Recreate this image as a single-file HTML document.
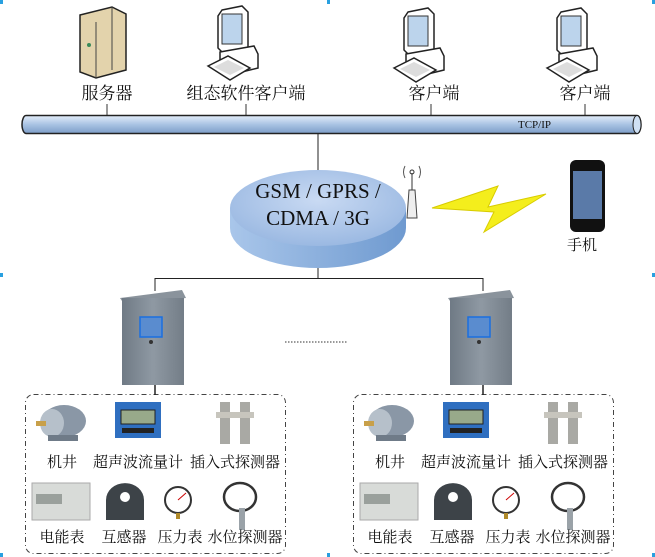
<!DOCTYPE html>
<html><head><meta charset="utf-8"><style>
html,body{margin:0;padding:0;background:#fff;}
svg{display:block;}
text{font-family:"Liberation Serif","Noto Serif CJK SC",serif;fill:#111;}
</style></head><body>
<svg width="655" height="557" viewBox="0 0 655 557" xmlns="http://www.w3.org/2000/svg">
<defs>
<linearGradient id="pipe" x1="0" y1="0" x2="0" y2="1"><stop offset="0" stop-color="#e4eefa"/><stop offset="0.5" stop-color="#a9c3e3"/><stop offset="1" stop-color="#7d9ec8"/></linearGradient>
<linearGradient id="cyl" x1="0" y1="0" x2="1" y2="0"><stop offset="0" stop-color="#a9c6ea"/><stop offset="1" stop-color="#6f9ad0"/></linearGradient>
<radialGradient id="top" cx="0.5" cy="0.4" r="0.6"><stop offset="0" stop-color="#c9daf3"/><stop offset="1" stop-color="#9bb9e2"/></radialGradient>
<linearGradient id="cab" x1="0" y1="0" x2="1" y2="0"><stop offset="0" stop-color="#6f7a85"/><stop offset="0.5" stop-color="#8f99a3"/><stop offset="1" stop-color="#737d87"/></linearGradient>
<g id="comp">
 <path d="M14 6 L34 2 L40 8 L40 44 L34 48 L14 48 L10 44 L10 12Z" fill="#fff" stroke="#222" stroke-width="1.5"/>
 <rect x="14" y="10" width="20" height="30" fill="#bcd4ec" stroke="#333"/>
 <path d="M12 48 L46 42 L50 50 L50 64 L26 70 L12 62Z" fill="#fff" stroke="#222" stroke-width="1.5"/>
 <path d="M0 62 L20 52 L42 64 L22 76Z" fill="#fff" stroke="#222" stroke-width="1.5"/>
 <path d="M6 63 L20 56 L36 64 L22 71Z" fill="#ddd"/>
</g>
<g id="devs">
 <ellipse cx="64" cy="421" rx="22" ry="16" fill="#8a97a6"/>
 <ellipse cx="52" cy="423" rx="12" ry="14" fill="#b6c0ca"/>
 <rect x="36" y="421" width="10" height="5" fill="#c8a04a"/>
 <rect x="48" y="435" width="30" height="6" fill="#6f7b88"/>
 <rect x="115" y="402" width="46" height="36" fill="#2f6fc0"/>
 <rect x="121" y="410" width="34" height="14" fill="#98a98a" stroke="#222"/>
 <rect x="122" y="428" width="32" height="5" fill="#222"/>
 <rect x="220" y="402" width="10" height="42" fill="#a9a9a4"/>
 <rect x="240" y="402" width="10" height="42" fill="#a9a9a4"/>
 <rect x="216" y="412" width="38" height="6" fill="#c7c5bd"/>
 <rect x="32" y="483" width="58" height="37" fill="#d8dbd8" stroke="#aaa"/>
 <rect x="36" y="494" width="26" height="10" fill="#9aa09c"/>
 <path d="M106 520 L106 500 A18 16 0 0 1 144 500 L144 520Z" fill="#3d4348"/>
 <circle cx="125" cy="497" r="5" fill="#fff"/>
 <circle cx="178" cy="500" r="13" fill="#fff" stroke="#333" stroke-width="2"/>
 <line x1="178" y1="500" x2="186" y2="493" stroke="#c00" stroke-width="1"/>
 <rect x="176" y="513" width="4" height="6" fill="#b08a2a"/>
 <ellipse cx="240" cy="497" rx="16" ry="14" fill="none" stroke="#333" stroke-width="2.5"/>
 <rect x="239" y="508" width="6" height="22" fill="#9aa2a8"/>
 <g font-size="15" text-anchor="middle">
  <text x="62" y="467">机井</text>
  <text x="138" y="467">超声波流量计</text>
  <text x="235" y="467">插入式探测器</text>
  <text x="62" y="542">电能表</text>
  <text x="124" y="542">互感器</text>
  <text x="180" y="542">压力表</text>
  <text x="245" y="542">水位探测器</text>
 </g>
 <rect x="25.5" y="394.5" width="260" height="159" rx="8" fill="none" stroke="#444" stroke-dasharray="5,3,1,3"/>
 <path d="M120 298 L182 290 L186 298 L124 304Z" fill="#8a939c"/>
 <rect x="122" y="298" width="62" height="87" fill="url(#cab)"/>
 <rect x="140" y="317" width="22" height="20" fill="#5a8ccf" stroke="#1a6fe0" stroke-width="1.5"/>
 <circle cx="151" cy="342" r="2" fill="#333"/>
 <line x1="155" y1="278" x2="155" y2="291" stroke="#222"/>
 <line x1="155" y1="385" x2="155" y2="395" stroke="#222" stroke-width="1.5"/>
</g>
</defs>

<path d="M80 15 L112 7 L126 14 L126 70 L96 78 L80 72Z" fill="#e3d3ac" stroke="#222" stroke-width="1.5"/>
<path d="M112 7 L112 70 M96 22 L96 78" stroke="#444" fill="none"/>
<circle cx="89" cy="45" r="2" fill="#3a8a5a"/>
<use href="#comp" x="208" y="4"/>
<use href="#comp" x="394" y="6"/>
<use href="#comp" x="547" y="6"/>
<g font-size="17" text-anchor="middle">
<text x="107" y="99">服务器</text>
<text x="246" y="99">组态软件客户端</text>
<text x="434" y="99">客户端</text>
<text x="585" y="99">客户端</text>
</g>
<g stroke="#333"><line x1="107" y1="104" x2="107" y2="118"/><line x1="246" y1="104" x2="246" y2="118"/><line x1="431" y1="104" x2="431" y2="118"/><line x1="585" y1="104" x2="585" y2="118"/></g>
<path d="M26 115.5 L637 115.5 A4 9 0 0 1 637 133.5 L26 133.5 A4 9 0 0 1 26 115.5Z" fill="url(#pipe)" stroke="#222" stroke-width="1.5"/>
<ellipse cx="637" cy="124.5" rx="4" ry="9" fill="#cfe0f4" stroke="#222"/>
<text x="518" y="128" font-size="11">TCP/IP</text>
<line x1="318" y1="134" x2="318" y2="172" stroke="#222"/>
<path d="M230 208 L230 228 A88 40 0 0 0 406 228 L406 208Z" fill="url(#cyl)"/>
<ellipse cx="318" cy="208" rx="88" ry="38" fill="url(#top)"/>
<g font-size="21" text-anchor="middle"><text x="318" y="198">GSM / GPRS /</text><text x="318" y="225">CDMA / 3G</text></g>
<line x1="318" y1="268" x2="318" y2="278" stroke="#222"/>
<line x1="412" y1="173" x2="412" y2="190" stroke="#333"/>
<circle cx="412" cy="172" r="2" fill="none" stroke="#333"/>
<path d="M405 166 Q402 172 405 178 M419 166 Q422 172 419 178" fill="none" stroke="#555"/>
<path d="M407 218 L409 190 L415 190 L417 218Z" fill="#eee" stroke="#444"/>
<path d="M432 208 L498 186 L488 207 L546 194 L484 232 L494 212Z" fill="#f4ee1c" stroke="#d8cc00"/>
<rect x="570" y="160" width="35" height="72" rx="6" fill="#111"/>
<rect x="573" y="171" width="29" height="48" fill="#5a7aa8"/>
<text x="582" y="250" font-size="15" text-anchor="middle">手机</text>
<line x1="155" y1="278.5" x2="483" y2="278.5" stroke="#222"/>
<line x1="285" y1="342" x2="347" y2="342" stroke="#333" stroke-dasharray="1.5,1.5"/>
<use href="#devs"/>
<use href="#devs" x="328"/>
<g fill="#29a0e0"><rect x="0" y="0" width="3" height="4"/><rect x="327" y="0" width="3" height="4"/><rect x="652" y="0" width="3" height="4"/><rect x="0" y="273" width="3" height="4"/><rect x="652" y="273" width="3" height="4"/><rect x="0" y="553" width="3" height="4"/><rect x="327" y="553" width="3" height="4"/><rect x="652" y="553" width="3" height="4"/></g>
</svg>
</body></html>
